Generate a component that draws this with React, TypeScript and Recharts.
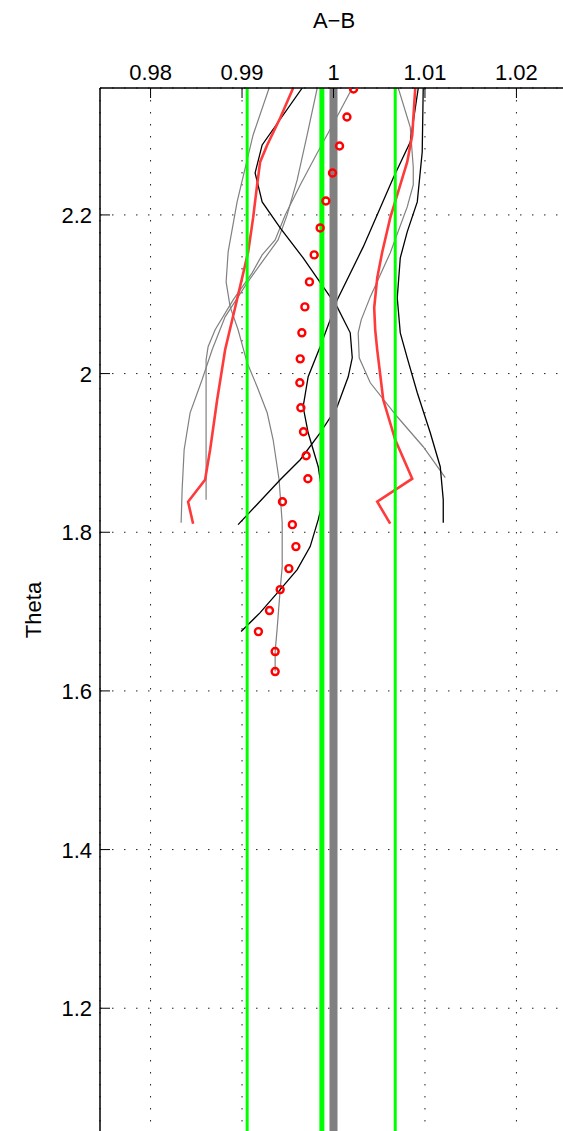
import React from 'react';
import { ComposedChart, Line, Scatter, XAxis, YAxis, CartesianGrid } from 'recharts';

// ---- axes ----
const xTicks = [0.98, 0.99, 1, 1.01, 1.02];
const yTicks = [1.2, 1.4, 1.6, 1.8, 2, 2.2];
const xDomain: [number, number] = [0.97447, 1.02553];
const yDomain: [number, number] = [1.044, 2.36];

// ---- red circle markers ----
const markerTheta = [2.3587, 2.3234, 2.2869, 2.2529, 2.2176, 2.1836, 2.1496, 2.1156, 2.0841, 2.0514, 2.0186, 1.9884, 1.9569, 1.9267, 1.8965, 1.8675, 1.8385, 1.8096, 1.7819, 1.7542, 1.7277, 1.7013, 1.6748, 1.6496, 1.6244];
const markerValue = [1.00219, 1.00147, 1.00066, 0.99989, 0.99917, 0.99854, 0.99789, 0.99737, 0.99687, 0.99654, 0.99636, 0.99632, 0.99643, 0.99672, 0.99701, 0.9972, 0.99442, 0.9955, 0.99589, 0.99512, 0.99417, 0.993, 0.99179, 0.99362, 0.99362];

// ---- red lines ----
const red1Theta = [2.36, 2.3222, 2.2882, 2.2668, 2.2378, 2.1962, 2.1534, 2.1207, 2.0829, 2.03, 1.967, 1.904, 1.8662, 1.8385, 1.8108];
const red1Value = [0.99559, 0.99417, 0.99275, 0.99198, 0.99165, 0.99121, 0.99067, 0.99001, 0.98924, 0.98815, 0.98728, 0.98651, 0.98596, 0.9841, 0.98465];
const red2Theta = [2.36, 2.3008, 2.2668, 2.2378, 2.1962, 2.1534, 2.1207, 2.0829, 2.0552, 2.03, 1.967, 1.9166, 1.8675, 1.8385, 1.8108];
const red2Value = [1.00894, 1.00861, 1.00806, 1.0073, 1.0062, 1.00533, 1.00478, 1.00445, 1.00456, 1.00478, 1.00544, 1.00675, 1.00861, 1.00478, 1.0062];

// ---- black lines ----
const blackETheta = [2.36, 2.2919, 2.2466, 2.1597, 2.0929, 2.0678, 2.0338, 1.996, 1.9582, 1.9254, 1.8826, 1.8411, 1.8159, 1.7819, 1.7529, 1.7277, 1.6987, 1.6748];
const blackEValue = [1.00927, 1.00839, 1.00653, 1.00325, 1.0004, 0.99964, 0.99854, 0.99723, 0.99668, 0.99723, 0.99833, 0.99887, 0.99833, 0.99745, 0.99603, 0.99417, 0.99198, 0.9899];
const blackFTheta = [2.36, 2.2882, 2.2529, 2.2164, 2.1836, 2.1458, 2.0967, 2.0841, 2.0514, 2.0199, 1.996, 1.9582, 1.9254, 1.8914, 1.8662, 1.8096];
const blackFValue = [0.99658, 0.9922, 0.99143, 0.9922, 0.99417, 0.99668, 0.99964, 1.0004, 1.00183, 1.00205, 1.00161, 1.0004, 0.99854, 0.99636, 0.99417, 0.98957];
const blackHTheta = [2.36, 2.2793, 2.2164, 2.1786, 2.1458, 2.0955, 2.0514, 2.0199, 1.9758, 1.9254, 1.8826, 1.8411, 1.8121];
const blackHValue = [1.00981, 1.0097, 1.00916, 1.00806, 1.0073, 1.00697, 1.0073, 1.00806, 1.00916, 1.01058, 1.01167, 1.012, 1.012];

// ---- gray lines ----
const grayATheta = [2.36, 2.3008, 2.2164, 2.1534, 2.1156, 2.0841, 2.0552, 2.0136, 1.9834, 1.9506, 1.9166, 1.8662, 1.8121, 1.7567, 1.7277, 1.6773, 1.6496, 1.6244];
const grayAValue = [0.99296, 0.99121, 0.98946, 0.98848, 0.98826, 0.9887, 0.98957, 0.99056, 0.99165, 0.99275, 0.9934, 0.99405, 0.99439, 0.99439, 0.99417, 0.99383, 0.99362, 0.99362];
const grayBTheta = [2.36, 2.3008, 2.2441, 2.2, 2.1685, 2.1408, 2.1144, 2.0715, 2.03, 1.9922, 1.9506, 1.904, 1.8537, 1.8121];
const grayBValue = [0.99822, 0.99712, 0.99603, 0.99493, 0.99394, 0.9922, 0.99056, 0.98815, 0.98673, 0.98563, 0.98432, 0.98367, 0.98345, 0.98334];
const grayCTheta = [2.36, 2.3196, 2.2781, 2.2378, 2.2, 2.1685, 2.1496, 2.127, 2.0929, 2.0552, 2.0338, 2.0174, 1.9418, 1.8411];
const grayCValue = [1.00205, 1.00019, 0.99822, 0.99636, 0.99472, 0.99362, 0.9922, 0.99111, 0.98903, 0.98706, 0.98629, 0.98607, 0.98607, 0.98607];
const grayDTheta = [2.36, 2.3108, 2.2605, 2.2378, 2.2101, 2.1521, 2.0967, 2.0678, 2.0514, 2.0199, 1.9884, 1.9456, 1.9078, 1.8688];
const grayDValue = [1.00708, 1.00839, 1.00872, 1.00872, 1.00806, 1.0062, 1.00402, 1.00303, 1.0027, 1.00281, 1.00402, 1.00697, 1.00981, 1.01222];

// ---- vertical reference levels ----
const greenThinLevels = [0.99056, 1.00675];
const greenThickLevels = [0.99873];
const grayThickLevels = [1.0];

const zip = (xs: number[], ys: number[]) => xs.map((x, i) => ({ x, y: ys[i] }));
const vertical = (v: number) => [{ x: v, y: yDomain[0] }, { x: v, y: yDomain[1] }];

const FONT = '"Liberation Sans", Arial, Helvetica, sans-serif';
const FS = 22;
const TICK_LEN = 10;

const TopTick = (props: any) => {
  const { x, y, payload } = props;
  return (
    <g>
      <text x={x} y={y} textAnchor="middle" fontFamily={FONT} fontSize={FS} fill="#000">
        {String(payload.value)}
      </text>
      <line x1={x} y1={y + 8} x2={x} y2={y + 8 + TICK_LEN} stroke="#000" strokeWidth={1} />
    </g>
  );
};
const LeftTick = (props: any) => {
  const { x, y, payload } = props;
  return (
    <g>
      <text x={x} y={y} dy="0.36em" textAnchor="end" fontFamily={FONT} fontSize={FS} fill="#000">
        {String(payload.value)}
      </text>
      <line x1={x + 8} y1={y} x2={x + 8 + TICK_LEN} y2={y} stroke="#000" strokeWidth={1} />
    </g>
  );
};
const BottomTick = (props: any) => {
  const { x, y } = props;
  return <line x1={x} y1={y} x2={x} y2={y - TICK_LEN} stroke="#000" strokeWidth={1} />;
};
const RightTick = (props: any) => {
  const { x, y } = props;
  return <line x1={x} y1={y} x2={x - TICK_LEN} y2={y} stroke="#000" strokeWidth={1} />;
};

const Ring = (props: any) => {
  const { cx, cy } = props;
  if (cx == null || cy == null) return null;
  return <circle cx={cx} cy={cy} r={3.5} stroke="#ff0000" strokeWidth={2.4} fill="none" />;
};

export default function App() {
  const grayLines = [zip(grayAValue, grayATheta), zip(grayBValue, grayBTheta), zip(grayCValue, grayCTheta), zip(grayDValue, grayDTheta)];
  const blackLines = [zip(blackEValue, blackETheta), zip(blackFValue, blackFTheta), zip(blackHValue, blackHTheta)];
  const redLines = [zip(red1Value, red1Theta), zip(red2Value, red2Theta)];
  const markers = zip(markerValue, markerTheta);

  return (
    <div style={{ position: 'fixed', left: 0, top: 0, width: 563, height: 1131, overflow: 'hidden', background: '#fff' }}>
      <ComposedChart width={567} height={1132} margin={{ top: 0, right: 0, bottom: 0, left: 0 }}>
        <CartesianGrid stroke="#222" strokeDasharray="1.5 10.5" strokeWidth={1} />
        <XAxis
          xAxisId={0}
          orientation="top"
          type="number"
          dataKey="x"
          domain={xDomain}
          allowDataOverflow
          ticks={xTicks}
          height={88}
          tickSize={0}
          tickMargin={8}
          tickLine={false}
          axisLine={{ stroke: '#000', strokeWidth: 1.5 }}
          tick={TopTick}
          interval={0}
        />
        <XAxis
          xAxisId="b"
          orientation="bottom"
          type="number"
          dataKey="x"
          domain={xDomain}
          allowDataOverflow
          ticks={xTicks}
          height={0}
          tickSize={0}
          tickMargin={0}
          tickLine={false}
          axisLine={{ stroke: '#000', strokeWidth: 1.5 }}
          tick={BottomTick}
          interval={0}
        />
        <YAxis
          yAxisId={0}
          orientation="left"
          type="number"
          dataKey="y"
          domain={yDomain}
          allowDataOverflow
          ticks={yTicks}
          width={100}
          tickSize={0}
          tickMargin={8}
          tickLine={false}
          axisLine={{ stroke: '#000', strokeWidth: 1.5 }}
          tick={LeftTick}
          interval={0}
        />
        <YAxis
          yAxisId="r"
          orientation="right"
          type="number"
          dataKey="y"
          domain={yDomain}
          allowDataOverflow
          ticks={yTicks}
          width={0}
          tickSize={0}
          tickMargin={0}
          tickLine={false}
          axisLine={{ stroke: '#000', strokeWidth: 1.5 }}
          tick={RightTick}
          interval={0}
        />

        {grayLines.map((d, i) => (
          <Line key={'g' + i} data={d} dataKey="y" type="linear" stroke="#808080" strokeWidth={1.2} dot={false} activeDot={false} isAnimationActive={false} />
        ))}
        {blackLines.map((d, i) => (
          <Line key={'k' + i} data={d} dataKey="y" type="linear" stroke="#000" strokeWidth={1.3} dot={false} activeDot={false} isAnimationActive={false} />
        ))}
        {redLines.map((d, i) => (
          <Line key={'r' + i} data={d} dataKey="y" type="linear" stroke="#ff3a3a" strokeWidth={2.6} dot={false} activeDot={false} isAnimationActive={false} />
        ))}
        {greenThinLevels.map((v, i) => (
          <Line key={'gt' + i} data={vertical(v)} dataKey="y" type="linear" stroke="#00ff00" strokeWidth={3} dot={false} activeDot={false} isAnimationActive={false} />
        ))}
        {greenThickLevels.map((v, i) => (
          <Line key={'gk' + i} data={vertical(v)} dataKey="y" type="linear" stroke="#00ff00" strokeWidth={5} dot={false} activeDot={false} isAnimationActive={false} />
        ))}
        {grayThickLevels.map((v, i) => (
          <Line key={'gr' + i} data={vertical(v)} dataKey="y" type="linear" stroke="#808080" strokeWidth={8} dot={false} activeDot={false} isAnimationActive={false} />
        ))}
        <Scatter data={markers} dataKey="y" shape={Ring} isAnimationActive={false} />
      </ComposedChart>
      <svg width={563} height={1131} style={{ position: 'absolute', left: 0, top: 0, pointerEvents: 'none' }}>
        <text x={334} y={28} textAnchor="middle" fontFamily={FONT} fontSize={FS} fill="#000">A−B</text>
        <text transform="translate(41,610) rotate(-90)" textAnchor="middle" fontFamily={FONT} fontSize={FS} fill="#000">Theta</text>
      </svg>
    </div>
  );
}
